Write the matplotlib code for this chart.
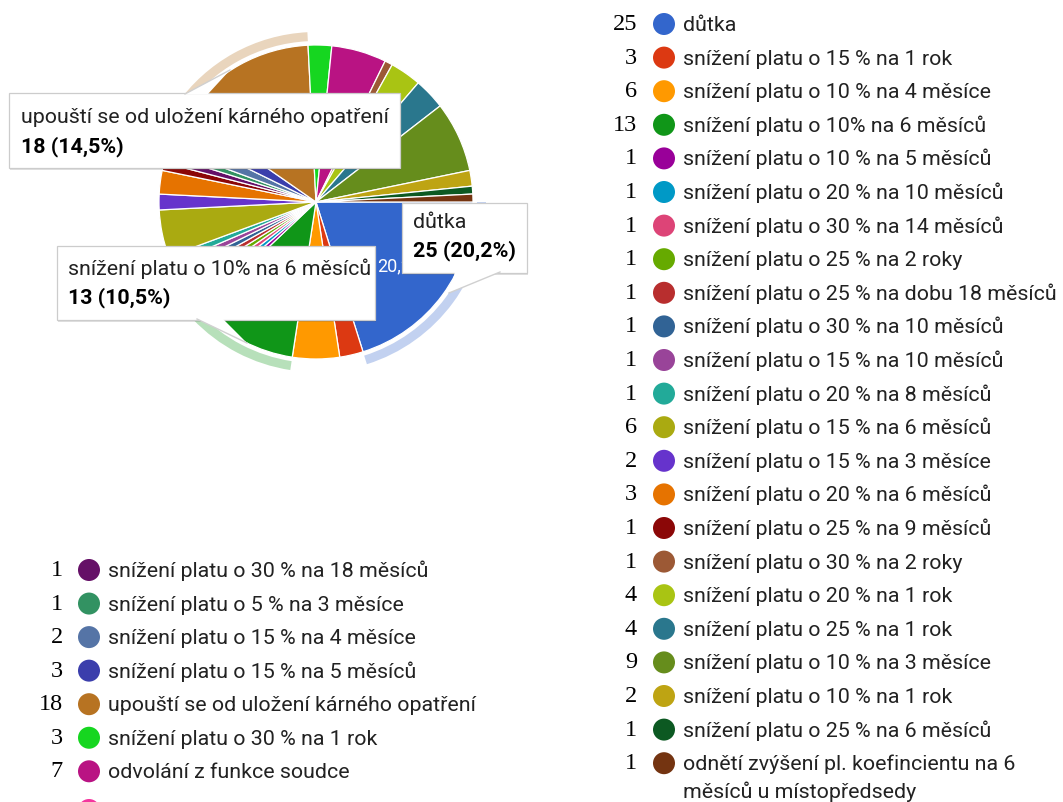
import numpy as np
import matplotlib.pyplot as plt
from matplotlib.patches import Wedge, Circle, Polygon, Rectangle
from matplotlib.colors import to_rgb

W, H = 1063, 802

# pie slices, in drawing order (clockwise from 3 o'clock)
labels = [
    'důtka',
    'snížení platu o 15 % na 1 rok',
    'snížení platu o 10 % na 4 měsíce',
    'snížení platu o 10% na 6 měsíců',
    'snížení platu o 10 % na 5 měsíců',
    'snížení platu o 20 % na 10 měsíců',
    'snížení platu o 30 % na 14 měsíců',
    'snížení platu o 25 % na 2 roky',
    'snížení platu o 25 % na dobu 18 měsíců',
    'snížení platu o 30 % na 10 měsíců',
    'snížení platu o 15 % na 10 měsíců',
    'snížení platu o 20 % na 8 měsíců',
    'snížení platu o 15 % na 6 měsíců',
    'snížení platu o 15 % na 3 měsíce',
    'snížení platu o 20 % na 6 měsíců',
    'snížení platu o 25 % na 9 měsíců',
    'snížení platu o 30 % na 18 měsíců',
    'snížení platu o 5 % na 3 měsíce',
    'snížení platu o 15 % na 4 měsíce',
    'snížení platu o 15 % na 5 měsíců',
    'upouští se od uložení kárného opatření',
    'snížení platu o 30 % na 1 rok',
    'odvolání z funkce soudce',
    'snížení platu o 30 % na 2 roky',
    'snížení platu o 20 % na 1 rok',
    'snížení platu o 25 % na 1 rok',
    'snížení platu o 10 % na 3 měsíce',
    'snížení platu o 10 % na 1 rok',
    'snížení platu o 25 % na 6 měsíců',
    'odnětí zvýšení pl. koefincientu na 6\nměsíců u místopředsedy',
]
counts = [25, 3, 6, 13, 1, 1, 1, 1, 1, 1, 1, 1, 6, 2, 3, 1,
          1, 1, 2, 3, 18, 3, 7, 1, 4, 4, 9, 2, 1, 1]
colors = ['#3366cc', '#dc3912', '#ff9900', '#109618', '#990099', '#0099c6',
          '#dd4477', '#66aa00', '#b82e2e', '#316395', '#994499', '#22aa99',
          '#aaaa11', '#6633cc', '#e67300', '#8b0707', '#651067', '#329262',
          '#5574a6', '#3b3eac', '#b77322', '#16d620', '#b91383', '#9c5935',
          '#a9c413', '#2a778d', '#668d1c', '#bea413', '#0c5922', '#743411']

# which slices go in which legend column
right_items = list(range(0, 16)) + list(range(23, 30))
left_items = list(range(16, 23))
cutoff_dot = '#f4359e'   # legend entry cut off at the bottom edge

selected = [20, 3, 0]    # slices with tooltip
total = sum(counts)

fig = plt.figure(figsize=(W / 100, H / 100), dpi=100)
ax = fig.add_axes([0, 0, 1, 1])

def Y(y):
    return H - y

cx, cy, R = 316, 202, 157
ax.pie(counts, colors=colors, startangle=0, counterclock=False,
       center=(cx, Y(cy)), radius=R,
       wedgeprops=dict(edgecolor='white', linewidth=0.9))
ax.set_xlim(0, W)
ax.set_ylim(0, H)
ax.set_aspect('auto')
ax.axis('off')

# selection rings
cum = np.concatenate([[0], np.cumsum(counts)])
for i in selected:
    a1 = cum[i] / total * 360
    a2 = cum[i + 1] / total * 360
    light = tuple(np.array(to_rgb(colors[i])) * 0.3 + 0.7)
    ax.add_patch(Wedge((cx, Y(cy)), R + 13, -a2, -a1, width=9,
                       facecolor=light, edgecolor='none', zorder=1))

def pct(v):
    return f'{v / total * 100:.1f}%'.replace('.', ',')

FS = 15.4

# slice label partly hidden behind tooltips
ax.text(377, Y(271), pct(counts[0]), color='white', fontsize=13,
        family='Roboto', va='baseline', ha='left', zorder=2)

def tooltip(box, tri, i, tx, b1, b2):
    x0, y0, x1, y1 = box
    ax.add_patch(Rectangle((x0 + 1, Y(y1 + 2)), x1 - x0, y1 - y0,
                           facecolor='#000000', alpha=0.12, edgecolor='none', zorder=5))
    ax.add_patch(Rectangle((x0, Y(y1)), x1 - x0, y1 - y0,
                           facecolor='white', edgecolor='#cccccc', linewidth=0.9, zorder=6))
    ax.add_patch(Polygon([(x, Y(y)) for x, y in tri], closed=True,
                         facecolor='white', edgecolor='none', zorder=7))
    ax.plot([tri[0][0], tri[2][0]], [Y(tri[0][1]), Y(tri[2][1])],
            color='#d0d0d0', linewidth=1, zorder=7)
    ax.text(tx, Y(b1), labels[i], fontsize=FS, family='Roboto', color='#222222',
            va='baseline', zorder=8)
    ax.text(tx, Y(b2), f'{counts[i]} ({pct(counts[i])})', fontsize=FS,
            family='Roboto', weight='bold', color='#000000', va='baseline', zorder=8)

tooltip((9, 93, 400, 168), [(185, 94), (208, 94), (230, 70)], 20, 21, 123, 152)
tooltip((57, 246, 375, 320), [(197, 319), (223, 319), (247, 343)], 3, 68, 275, 303)
tooltip((402, 203, 527, 273), [(500, 272), (455, 272), (449, 293)], 0, 413, 228, 256)

# legends
def legend_row(i, y, xn, xd, xt):
    ax.text(xn, Y(y + 6), str(counts[i]), fontsize=17.5, family='Liberation Serif',
            color='black', ha='right', va='baseline')
    ax.add_patch(Circle((xd, Y(y)), 11, facecolor=colors[i], edgecolor='none'))
    for k, line in enumerate(labels[i].split('\n')):
        ax.text(xt, Y(y + 7 + k * 28), line, fontsize=FS, family='Roboto',
                color='#222222', ha='left', va='baseline')

for r, i in enumerate(right_items):
    legend_row(i, 24 + r * 33.6, 637, 664, 683)

for r, i in enumerate(left_items):
    legend_row(i, 570 + r * 33.55, 63, 89, 108)
ax.add_patch(Circle((89, Y(810)), 11, facecolor=cutoff_dot, edgecolor='none'))

fig.savefig('out.png', dpi=100)
